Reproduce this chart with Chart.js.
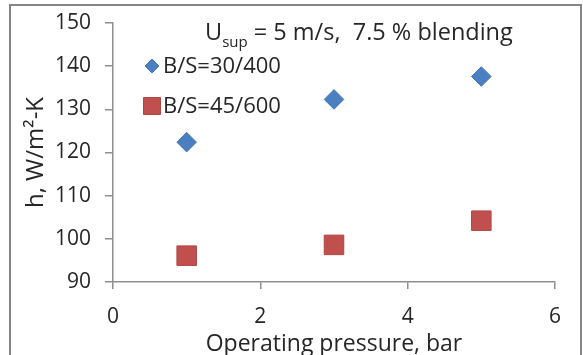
<!DOCTYPE html>
<html>
<head>
<meta charset="utf-8">
<script src="https://cdn.jsdelivr.net/npm/chart.js@4.4.0/dist/chart.umd.min.js"></script>
<style>
  html, body { margin: 0; padding: 0; background: #fff; overflow: hidden; }
  #wrap { position: relative; width: 583px; height: 355px; }
</style>
</head>
<body>
<div id="wrap"><canvas id="hChart"></canvas></div>
<script>
// heat transfer coefficient vs operating pressure
const pressure = [1, 3, 5];
const bs30 = [122.4, 132.3, 137.6];
const bs45 = [96.1, 98.6, 104.2];
const seriesNames = ["B/S=30/400", "B/S=45/600"];
const xTicks = [0, 2, 4, 6];
const yTicks = [90, 100, 110, 120, 130, 140, 150];

const FONT = "'Open Sans', sans-serif";
const AXIS_GREY = "#8e8e8e";
const TEXT = "#262626";

function toPoints(xs, ys) {
  return xs.map((x, i) => ({ x: x, y: ys[i] }));
}

// grey box around the whole figure (open at the bottom edge)
const framePlugin = {
  id: "frame",
  afterDraw(chart) {
    const ctx = chart.ctx;
    ctx.save();
    ctx.strokeStyle = "#858585";
    ctx.lineWidth = 2;
    ctx.beginPath();
    ctx.moveTo(10, chart.height);
    ctx.lineTo(10, 5);
    ctx.lineTo(chart.width - 2, 5);
    ctx.lineTo(chart.width - 2, chart.height);
    ctx.stroke();
    ctx.restore();
  }
};

// heading with subscript, drawn inside the plot area
const headingPlugin = {
  id: "heading",
  afterDraw(chart) {
    const ctx = chart.ctx;
    const area = chart.chartArea;
    let x = area.left + 92;
    const y = area.top + 17;
    ctx.save();
    ctx.fillStyle = TEXT;
    ctx.textBaseline = "alphabetic";
    ctx.textAlign = "left";
    ctx.font = "23.5px " + FONT;
    ctx.fillText("U", x, y);
    x += ctx.measureText("U").width;
    ctx.font = "15px " + FONT;
    ctx.fillText("sup", x, y + 7);
    x += ctx.measureText("sup").width;
    ctx.font = "23.5px " + FONT;
    ctx.fillText(" = 5 m/s,  7.5 % blending", x, y);
    ctx.restore();
  }
};

// legend inside the plot, top-left
const insideLegend = {
  id: "insideLegend",
  afterDraw(chart) {
    const ctx = chart.ctx;
    const area = chart.chartArea;
    const markerX = area.left + 39;
    const textX = area.left + 50;
    const rows = [area.top + 43, area.top + 83];
    const legendRadius = [7, 12];
    ctx.save();
    ctx.font = "22px " + FONT;
    ctx.textBaseline = "middle";
    chart.data.datasets.forEach((ds, i) => {
      ctx.fillStyle = ds.backgroundColor;
      ctx.strokeStyle = ds.borderColor;
      Chart.helpers.drawPoint(ctx, {
        pointStyle: ds.pointStyle,
        radius: legendRadius[i],
        rotation: 0,
        borderWidth: 1
      }, markerX, rows[i]);
      ctx.fillStyle = TEXT;
      ctx.fillText(ds.label, textX, rows[i] + 1);
    });
    ctx.restore();
  }
};

// keep tick-label padding from pushing the plot area around
function noEdgePadding(s) {
  s.paddingTop = 0;
  s.paddingBottom = 0;
  s.paddingLeft = 0;
  s.paddingRight = 0;
}

new Chart(document.getElementById("hChart"), {
  type: "scatter",
  data: {
    datasets: [
      {
        label: seriesNames[0],
        data: toPoints(pressure, bs30),
        pointStyle: "rectRot",
        pointRadius: 9.8,
        pointHoverRadius: 9.8,
        backgroundColor: "#4A7FC1",
        borderColor: "#4779B8",
        borderWidth: 1
      },
      {
        label: seriesNames[1],
        data: toPoints(pressure, bs45),
        pointStyle: "rect",
        pointRadius: 13.8,
        pointHoverRadius: 13.8,
        backgroundColor: "#C0504D",
        borderColor: "#B24542",
        borderWidth: 1
      }
    ]
  },
  options: {
    responsive: true,
    maintainAspectRatio: false,
    animation: false,
    layout: { padding: { top: 23, right: 28, left: 0, bottom: 0 } },
    plugins: {
      legend: { display: false },
      tooltip: { enabled: false }
    },
    scales: {
      x: {
        type: "linear",
        min: 0,
        max: 6,
        afterBuildTicks: s => { s.ticks = xTicks.map(v => ({ value: v })); },
        afterFit: s => { s.height = 73; noEdgePadding(s); },
        ticks: { font: { family: FONT, size: 21 }, color: TEXT, padding: 15 },
        grid: { drawOnChartArea: false, tickLength: 7, color: AXIS_GREY, lineWidth: 1.5 },
        border: { color: AXIS_GREY, width: 1.5 },
        title: {
          display: true,
          text: "Operating pressure, bar",
          font: { family: FONT, size: 23 },
          color: TEXT,
          padding: { top: 0, bottom: -3 }
        }
      },
      y: {
        min: 90,
        max: 150,
        afterBuildTicks: s => { s.ticks = yTicks.map(v => ({ value: v })); },
        afterFit: s => { s.width = 113; noEdgePadding(s); },
        ticks: { font: { family: FONT, size: 21 }, color: TEXT, padding: 14 },
        grid: { drawOnChartArea: false, tickLength: 8, color: AXIS_GREY, lineWidth: 1.5 },
        border: { color: AXIS_GREY, width: 1.5 },
        title: {
          display: true,
          text: "h, W/m²-K",
          font: { family: FONT, size: 24 },
          color: TEXT,
          padding: { top: 22, bottom: 0 }
        }
      }
    }
  },
  plugins: [framePlugin, headingPlugin, insideLegend]
});
</script>
</body>
</html>
